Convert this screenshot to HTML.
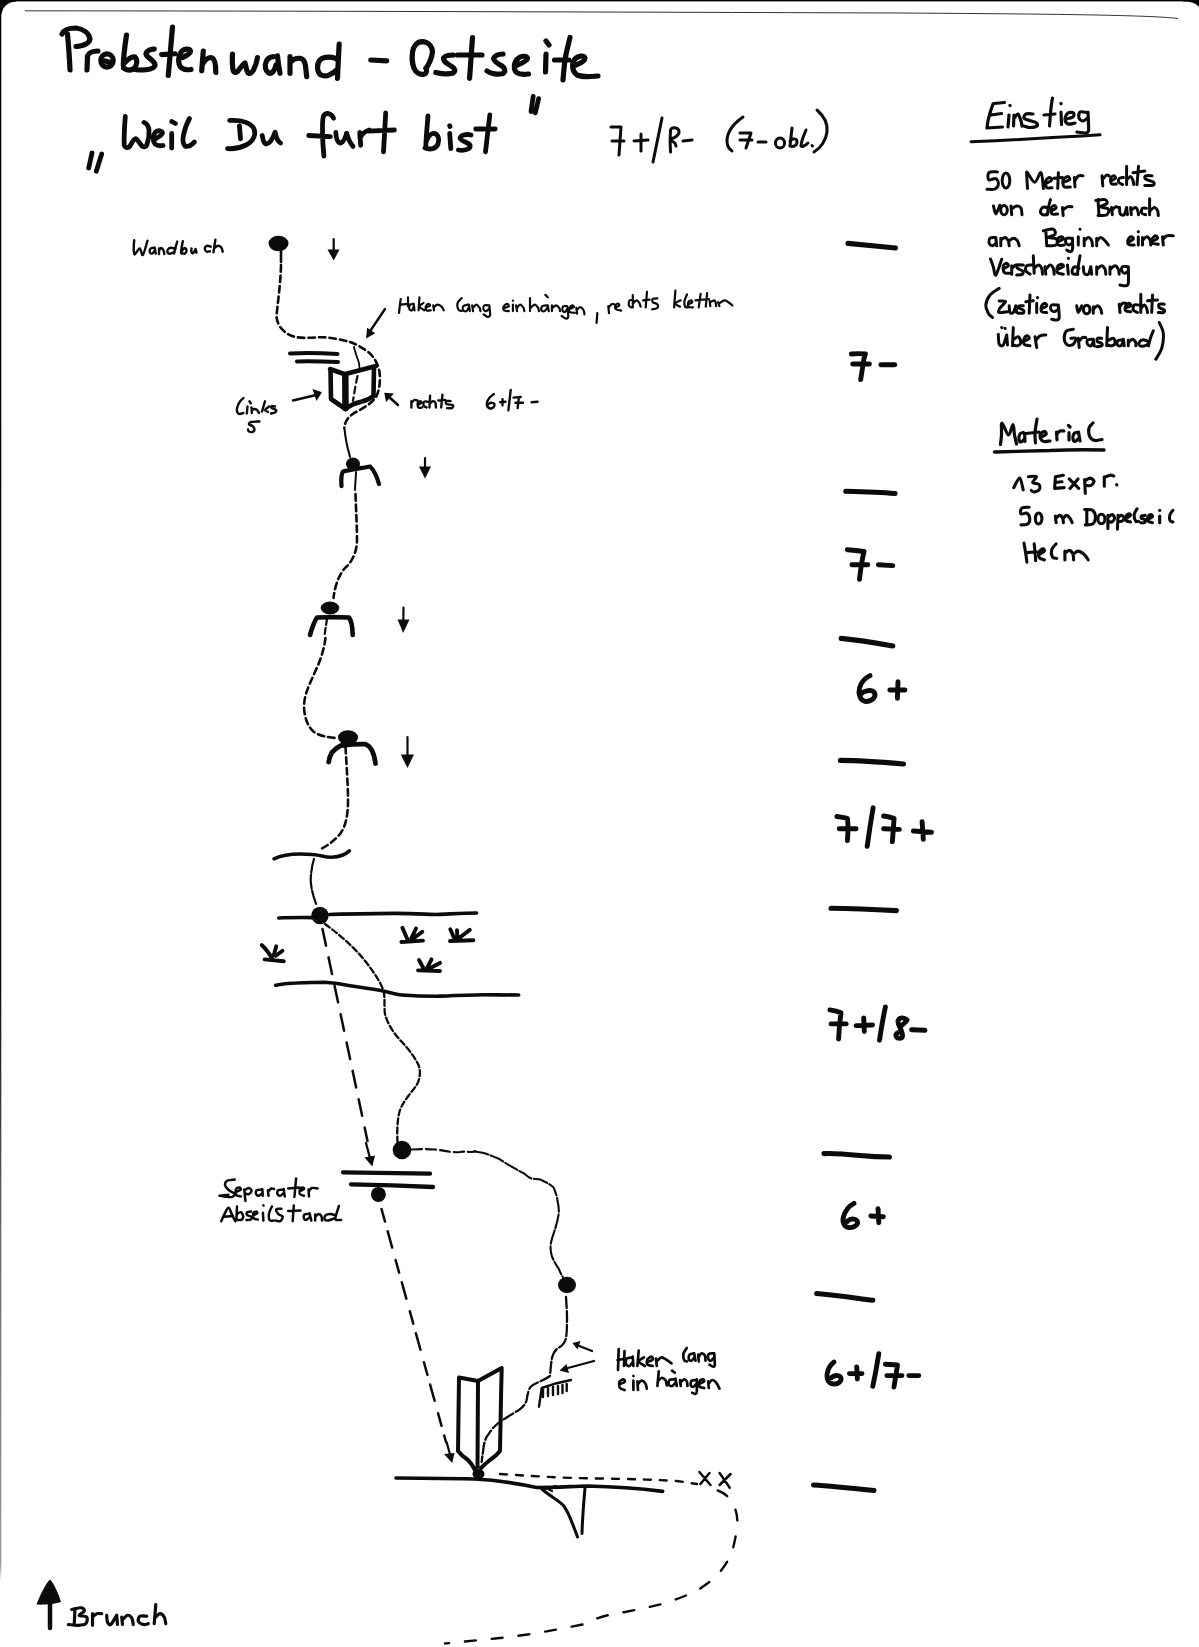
<!DOCTYPE html>
<html><head><meta charset="utf-8"><title>Probstenwand - Ostseite</title>
<style>
html,body{margin:0;padding:0;background:#fff;}
body{width:1199px;height:1647px;overflow:hidden;position:relative;font-family:"Liberation Sans",sans-serif;}
svg{position:absolute;left:0;top:0;display:block;}
.k{fill:none;stroke:#0b0b0b;stroke-linecap:round;stroke-linejoin:round;}
.f{fill:#0b0b0b;stroke:none;}
.t1{stroke-width:5.2;}
.t2{stroke-width:4.8;}
.t3{stroke-width:3.0;}
.g{stroke-width:4.9;}
.d{stroke-width:2.4;}
.tx{font-family:"Liberation Sans",sans-serif;fill:#0b0b0b;stroke:#0b0b0b;}
</style></head>
<body>
<svg width="1199" height="1647" viewBox="0 0 1199 1647">
<!-- scan border -->
<defs><linearGradient id="lb" x1="0" y1="0" x2="0" y2="1647" gradientUnits="userSpaceOnUse">
<stop offset="0" stop-color="#000"/><stop offset="0.6" stop-color="#111"/><stop offset="0.75" stop-color="#666"/><stop offset="0.95" stop-color="#999"/><stop offset="0.96" stop-color="#fff"/></linearGradient></defs>
<rect x="0" y="0" width="1199" height="1.4" fill="#000"/>
<path d="M0,0 L16,0 L16,1.4 C8,2 3,6 1.6,14 L0,14 Z" fill="#000"/>
<path d="M1183,0 L1199,0 L1199,7 C1196,3 1191,1.5 1183,1.4 Z" fill="#000"/>
<rect x="0" y="0" width="1.3" height="1580" fill="url(#lb)"/>
<path d="M25,10.8 C300,11 600,12 900,13 C1050,14 1150,15 1178,18.5" fill="none" stroke="#333" stroke-width="1"/>

<!-- TITLE -->
<g class="k t1" id="title">
<path d="M62,34 C64,29 70,28 76,28 C83,29 89,33 90,39 C89,44 82,46 76,46.5"/>
<path d="M67.5,34 C68.5,45 69.5,58 70,70"/>
<path d="M87.5,56 L87,70 M87.5,56 C89,52 93,51 98,51"/>
<ellipse cx="107" cy="60.5" rx="6.2" ry="6.7"/>
<path d="M105,61 L110.5,62.5"/>
<path d="M126.5,35 C125,45 123.5,55 123.3,65 M123.5,64 C127,60 132,56 135,57 C138,60 137,66 133.5,69 C130,70.5 126,70 123.5,68"/>
<path d="M154.2,49.2 C150,49 146,51 146,54 C147,58 154,60 155,64.5 C155,69 148,70 140,70 C137,70 135,69.5 134,69"/>
<path d="M172.5,27 L168.3,75.5 M161.7,54.6 L175,53.75"/>
<path d="M182.5,57.5 C186,56 190,54 190.5,51.5 C190,48.5 185,48.5 182,51 C178,55 177.5,64 181,67.5 C184,70 188,70 191,69.5"/>
<path d="M203.3,51 L201.7,70.8 M202.5,64.2 C205,60 208,57.5 211,57.5 C214,58 215,61 215.5,66 L215.8,72.5"/>
<path d="M232.5,54 C232,60 232.5,66 233,70 C234,73 236,73.3 238,71 C241,67 243,64 245,63 C246,66 246.5,71 248,73 C250,74 252,72.5 253.5,70 C255.5,66 257,61 257.5,57.5"/>
<path d="M273.3,56.7 C269,57 266,60 265.3,65 C265,70 267.5,73 270,73.3 C273,73 275,69 276,65 M277.5,55.8 C278,62 279,68 280,73.3"/>
<path d="M290,56.7 L290,73.3 M290.5,62 C293,59 296,58 300,58.3 C304,59 305,62 305.5,66 L306.7,76.7"/>
<path d="M338,60 C334,56.5 324,56 320,60 C316.5,64 316.5,72 321,75 C326,77.5 333,74 337.5,69 M339.2,44 C338.5,55 338,67 337.5,78.3"/>
<path d="M370.8,60 L386.7,60.8"/>
<path d="M425.8,68.3 C429,65 432,57 432.5,51.7 C432,46 428,42 422,41.7 C417,42 413.5,46 412.5,52 C411.5,60 413,68 416,71.5 C418.5,74 422,74.8 424.5,74 C427,73 427,70 425.8,68.3"/>
<path d="M453.3,55 C449,55 445,55.5 443.5,58 C443,62 448,64 451,66 C455,68 456,71 453,73 C449,74.5 441,74 435.8,72.5"/>
<path d="M472.5,37.5 C471.5,52 470.5,65 469.6,78.3 M457.5,55 L482,55"/>
<path d="M503,54 C499,54 495,55 493.5,58.5 C494,62 499,64 502,66 C505,68 506,71.5 503,73.5 C498,75 491,74 487,71"/>
<path d="M517.5,65 C521,63.5 527,61 527.5,58.5 C527,55.5 521,55.5 518,58.5 C514,62 513,69 516.5,72.5 C520,75 525,74.5 528.5,74"/>
<path d="M546,54 L545.5,72 M546,41 L549,45"/>
<path d="M570,37.5 C568,46 566,53 565,60 C564,68 563.5,74 563,80 M554.5,60 L569,60"/>
<path d="M576,65 C580,63.5 585,61 585,58 C584,55 578,55.5 575,59 C571.5,63 571.5,71 577,75 C584,78 592,76.5 598,76"/>
</g>

<!-- SUBTITLE -->
<g class="k t2" id="sub">
<path d="M92,153 L88.7,168 M101.7,154 L96.3,171.3"/>
<path d="M125.3,116.5 C124.5,126 124,136 124.2,145 C125,148 128,148.5 130,146 C132,142.5 134,139 135.6,138.7 C137.5,139 139.5,143.5 142,146 C144,147.5 146,147 147,144.5 C148.5,140 149.3,134 149,130 C148.5,126 146.5,123.5 144,122.4"/>
<path d="M155,139 C158,137.5 162,135 162.5,133 C162,130.5 158,130 155.5,132 C152.5,135 152.5,141 155,144 C157.5,146 160.5,146 163,145.5"/>
<path d="M171.7,133.4 L171.7,148 M171.7,121.5 L175.5,123.5"/>
<path d="M189.5,118.5 C187.5,122 185,128 183.5,135 C182.5,140 183,144 185,146 C188,147.5 191.5,145 194.4,142"/>
<path d="M239.4,125.8 L240.5,138.8 M229.7,120.4 C238,120 248,121 253,127 C257,133 254,141 246,145 C240,148 232,149 227.5,148.6"/>
<path d="M262.2,135.5 C263,139 263,143 266,144 C269,144 272,141 275,132.3 M275.2,132.3 C276,137 277,141 280.6,143"/>
<path d="M333.6,118.2 C331,113 326,112 323.5,116 C322,120 322.5,135 323,145 L323.9,156 M308.7,135.5 L330.4,136.6"/>
<path d="M335.8,132.3 C336,137 337,142 340,143 C343,143 345,139 346.6,133.4 M346.6,133.4 C348,138 350,143 353,146.4"/>
<path d="M359.7,132.3 L360.7,145.3 M360,138 C362,134 365,131 369.4,130"/>
<path d="M385.7,112.8 L383.5,151.8 M368.3,131.2 L394.4,130"/>
<path d="M428,116 C427,128 426,138 425.8,147.5 M426,142 C428,137 431,133 434,133.4 C438,134 440,139 438,144 C436,149 430,150 425,148"/>
<path d="M449.7,133.4 L450.8,148.6 M449.7,125.8 L450,126.5"/>
<path d="M471,135 C467,134 461,134.5 460,138 C460,141 468,142 470,145 C471,149 465,151 458.4,150"/>
<path d="M489.8,115 L485.5,151.8 M475.7,129 L495.2,129"/>
<path d="M533.2,96.5 L531,111.7 M538.6,98.7 L535.3,112.8"/>
</g>

<!-- grade header -->
<g class="k t3" id="grade">
<path d="M611,127 L621,127 L619,155 M612,141 L624,141"/>
<path d="M634,141 L648,140 M641,134 L641,151"/>
<path d="M662,118 L653,162"/>
<path d="M670.5,152 C670,145 670,137 670.5,130 C672,126.5 678,127 679,131 C679.5,135 675,138 670.5,139 M670.5,141 C673,141 676,143 676,146"/>
<path d="M683,141 L692,140"/>
<path d="M743,117 C733,124 727,133 727,141 C727,146 729,149 732,151"/>
<path d="M740,133 L751,133 L746,148 M740,140 L752,140"/>
<path d="M758,142 L766,142"/>
<ellipse cx="780" cy="143" rx="4.6" ry="5"/>
<path d="M792,128 L790,146 M790,141 C793,138 797,138 797,142 C797,146 793,147 790,146"/>
<path d="M806,130 C803,137 801,142 801,146 C802,147 805,146 808,143"/>
<path d="M812,145.5 L812.5,146"/>
<path d="M817,110 C825,117 828,124 827,132 C826,140 821,148 814,152"/>
</g>

<!-- GRADES COLUMN -->
<g class="k g" id="grades">
<path d="M848,243.4 C860,244.5 880,246.5 895.5,248" stroke-width="5.1"/>
<path d="M851.4,354 C856,353.5 861,353.5 865.4,354 C864.5,357 863.5,359 863.4,362 C862.5,368 861.5,374 860.7,379.5 M852.7,364 L869.4,364 M880.8,364.8 L894.8,364.8"/>
<path d="M845.8,491.2 C860,491.5 880,492 895,493.5" stroke-width="5.1"/>
<path d="M847.3,549.7 C853,550 858,550.5 864,551.5 C862,560 860.5,570 859.5,579.3 M851.9,564.8 L867.8,564.8 M878.4,564.8 L892.8,565.6"/>
<path d="M841.2,638.4 C858,640 876,643 892.8,646" stroke-width="5.1"/>
<path d="M870,675.6 C865,678 861,682 859.5,688 C858,694 860,700 865,701.4 C870,702 874.5,699 875,695 C875,691 871,690 867,690.8 C864,691.5 862,693 861.7,693.5 M889.8,690 L905,690 M898,681.7 L897.4,698.4"/>
<path d="M840.4,760.4 C860,760.5 880,762 903.5,764" stroke-width="5.1"/>
<path d="M836.9,816.5 C840,817 844,817.5 847.4,818.3 C848.5,825 848,833 847.4,840.5 M839.2,828.8 L856.1,828.8 M873.1,807.8 C871,820 869,833 867.2,846.3 M883.6,816 C887,816.5 891,817.5 894.1,818.3 C893.5,826 893,834 892.4,841.6 M883.6,828.8 L899.4,829.4 M913.4,831 L931.5,832.3 M922.1,821.8 L923.3,839.3"/>
<path d="M831,908.2 C850,908.5 875,909.5 896.4,910.6" stroke-width="5.1"/>
<path d="M829.9,1009.9 C834,1010.5 838,1011.5 841,1012.8 C840,1020 839,1030 838.6,1039 M831,1023.9 L846.2,1023.9 M856.1,1025.6 L872.5,1025 M863.7,1018 L864.3,1031.5 M885.4,1007 C883,1018 881,1030 879.5,1040.2 M907,1020 C904,1017 899,1017 898,1021 C897.5,1025 901,1028 901,1030 C900,1033 895,1032 896,1036 C897,1039 902,1039 902.5,1036 C903,1033 900,1029 900.5,1027 C902,1024 906,1023 907,1020 M911.6,1029.7 L925,1030.3"/>
<path d="M824,1153.6 C835,1153 845,1154 860,1155.5 C870,1156.5 880,1157 889.4,1157" stroke-width="5.1"/>
<path d="M854,1203.4 C849,1206 845,1211 843.5,1217 C842,1222 844,1227 849,1227.6 C854,1228 858,1225 857.5,1222 C857,1219 853,1218.5 850,1219.5 C848,1220.5 847.5,1221 847.4,1221.4 M870.8,1216 L883.4,1216.7 M878,1208.7 L878.8,1222.7"/>
<path d="M816.7,1293.5 C835,1295 855,1298 872.8,1300.2" stroke-width="5.1"/>
<path d="M834,1362 C830,1365 827.5,1370 827,1375 C826.5,1380 829,1384 834,1384 C839,1384 841.5,1381 841,1378 C840,1375 836,1375 833,1376.5 C831.5,1377.5 831.5,1377.6 831.4,1377.6 M849.4,1373.6 L862,1373.6 M856.7,1367 L857.4,1379 M878.8,1353.6 C877,1365 875,1376 872.8,1386.3 M885.4,1364.3 C889,1364.5 893,1364.8 897.5,1365 C896.5,1372 895,1380 894,1387 M886.8,1375.6 L902,1375.6 M908.8,1375.6 L918.8,1375.6"/>
<path d="M813.5,1485 C830,1486 850,1488 874,1490.5" stroke-width="5"/>
</g>

<!-- DIAGRAM -->
<g id="diagram">
<!-- Wandbuch -->
<ellipse class="f" cx="278.5" cy="243.5" rx="10" ry="7.8"/>
<path class="k" stroke-width="2.2" d="M333.7,239 L333.7,252"/>
<path class="f" d="M327.5,249.5 L339.5,249.5 L333.7,260.5 Z"/>
<!-- rope 1 -->
<path class="k" stroke-width="2.6" d="M281,250 L281,262"/>
<path class="k" stroke-width="2.6" stroke-dasharray="6.5 4" d="M281,265 C280.5,285 278,300 276.5,316 C277,326 284,333 292,336 C300,339 312,337.5 322,337.2 C332,337.5 342,340 350,342 C356,344 362,348 367,351 C374,356 378,364 379.5,372 C380.5,382 379.5,390 376,397 C371,404 362,409 354,413 C347,418 344.5,423 344.3,428"/>
<path class="k" stroke-width="1.8" d="M354,347 C355,352 357,357 359,363 L359.5,368"/>
<path class="k" stroke-width="2.2" stroke-dasharray="7 4" d="M357.5,376 C356,383 354.5,391 353,401"/>
<!-- roof -->
<path class="k" stroke-width="4" d="M290,353.5 C300,353 320,353 337.5,354 M297,361.5 C310,361 325,361.5 338,362"/>
<!-- book 1 -->
<path class="k" stroke-width="4.6" d="M330,369 L345.5,374.5 M330.5,369 L331,399 L345.5,409 M345.5,374 L376,366 M374,367 L373.5,396 M345.5,409 C350,405 356,403 362,401.5 C367,400 371,398 373.5,396"/>
<path class="k" stroke-width="6.5" d="M345.3,375 L345.5,408"/>
<!-- arrows near book -->
<path class="k" stroke-width="2.4" d="M293,400.5 L316,395"/>
<path class="f" d="M322,392.3 L312.5,389 L316.5,401 Z"/>
<path class="k" stroke-width="2.6" d="M398,405 L389,397"/>
<path class="f" d="M384.3,392.8 L394,393.5 L386,402 Z"/>
<path class="k" stroke-width="2.4" d="M385,309 L369.5,332"/>
<path class="f" d="M366,338.5 L375.2,333.2 L367.2,327.8 Z"/>

<!-- stand 1 -->
<path class="k" stroke-width="2.1" d="M344.5,429 C345.5,438 347,446 348.5,451 L350,457"/>
<ellipse class="f" cx="353" cy="464" rx="7" ry="6.4"/>
<path class="k" stroke-width="4.3" d="M341.5,486 C341,480 341.5,474 343,471.5 C350,470 362,468 370,466.5 C374,470 377,477 379,484"/>
<path class="k" stroke-width="2" d="M356,472 C356,478 355,484 355,490"/>
<path class="k" stroke-width="2.2" d="M425,458 L425,470"/>
<path class="f" d="M419,466.5 L431,466.5 L425,478.5 Z"/>
<!-- rope 2 -->
<path class="k" stroke-width="2.6" stroke-dasharray="6.5 4" d="M355.5,494 C356,510 357,525 357,540 C357,552 352,562 345,568 C339,575 335,585 333.5,598"/>
<!-- stand 2 -->
<ellipse class="f" cx="330" cy="608" rx="9.3" ry="6.5"/>
<path class="k" stroke-width="4.6" d="M310,635 C312,628 314,622 317,617.5 C327,617 340,617 349,617.5 C351,620 352.5,627 352.7,635"/>
<path class="k" stroke-width="2.2" stroke-dasharray="6 3" d="M327,619 L324.7,634"/>
<path class="k" stroke-width="2.2" d="M403.5,607.5 L403.3,622"/>
<path class="f" d="M397.5,619.5 L409.5,619.5 L403.2,633 Z"/>
<!-- rope 3 -->
<path class="k" stroke-width="2.6" stroke-dasharray="6.5 4" d="M325.5,638 C324,650 320,662 314,674 C310,684 305,692 304,705 C304,716 307,726 314,732 C320,736 328,737.5 337,738"/>
<!-- stand 3 -->
<ellipse class="f" cx="348" cy="737.5" rx="10" ry="7.3"/>
<path class="k" stroke-width="4.8" d="M328.7,762 C329.5,755 333,749 341,745.5 C350,744.5 358,744 365.4,744.2 C371,746 374,752 375.5,763.5"/>
<path class="k" stroke-width="2.2" d="M407.5,737 L407.5,757"/>
<path class="f" d="M400.8,754.5 L414,754.5 L407.5,768 Z"/>
<!-- rope 4 -->
<path class="k" stroke-width="2.6" stroke-dasharray="6.5 4" d="M345.5,747 C346.5,765 348,785 348,800 C348,815 346,826 340,834 C334,841 327,846 320,849.5"/>
<!-- ledge 1 -->
<path class="k" stroke-width="3.6" d="M274,858.8 C280,856 288,854 300,854 C310,854 318,855 322,856 C330,858 336,858 342.8,855 C346,853.5 348,852 349.4,850.8"/>
<path class="k" stroke-width="2.2" stroke-dasharray="14 2" d="M314,859 C312,865 311,872 310.7,880 C311,888 313,896 316.7,905.5"/>
<!-- ledge 2 + dot 5 -->
<circle class="f" cx="320" cy="915.5" r="8.7"/>
<path class="k" stroke-width="3.6" d="M278.7,918 C290,917.5 300,917.5 312,917.6 M329.4,914.5 C350,914 375,913.4 395,913.4 C415,913.5 430,914.5 437,914.5 C450,914 465,913 476.6,913"/>
<!-- grass tufts -->
<g class="k" stroke-width="3.9">
<path d="M264.6,959.4 L283.8,961.3 M272.5,959 C269,953 265,948 261.7,945 M273.8,955 L276.3,946.3 M275.8,955.8 L282.5,950.8"/>
<path d="M401.4,942 L423,940.6 M407.8,940.2 L402.4,927.8 M411.3,938.4 L416,928.5 M413.4,938.4 L422.3,931.7"/>
<path d="M450,941 L473.4,940.2 M454.6,939 L450.3,929.2 M457.4,938.4 L457,930.3 M459.5,937.7 L469.8,929.9"/>
<path d="M418,970.4 L440,971 M423.4,968.2 L419,960 M427,968.2 L431.5,959.4 M429.8,968.2 L440,962.9"/>
</g>
<!-- ledge 3 -->
<path class="k" stroke-width="3.6" d="M275.7,985.3 C283,984 290,983 296.7,983 C308,982.5 318,982.3 324.8,982.3 C335,983 343,984.5 350.5,985.8 C362,987.5 372,989 380.8,990.5 C390,992.5 396,994.5 401.9,995 C415,996 427,996.3 437,996.3 C455,995.5 470,994.8 483.6,994.7 C495,994.8 508,995 518.7,995"/>
<!-- abseil 1 -->
<path class="k" stroke-width="2.5" stroke-dasharray="17 12" d="M322.5,929 L367.5,1141"/>
<path class="k" stroke-width="2.3" d="M366,1143 L370.5,1160"/>
<path class="f" d="M364.5,1157.5 L375,1155.5 L372.3,1166.5 Z"/>
<!-- route from dot 5 -->
<path class="k" stroke-width="2.3" stroke-dasharray="6 3" d="M325,924 C340,935 355,948 366,962 C375,974 382,984 384,993 C385,1002 384,1008 385,1014 C387,1022 392,1031 400,1040 C407,1047 414,1056 418.5,1065 C421,1072 420,1080 416,1086 C411,1093 404,1100 400,1110 C397,1120 397,1132 397.5,1142"/>
<!-- dot 6 -->
<circle class="f" cx="402" cy="1150" r="9.3"/>
<path class="k" stroke-width="2.2" stroke-dasharray="10 4" d="M412,1149.5 C420,1149 426,1148.9 435,1149.5 C445,1150.5 452,1153 460,1152 C466,1151 470,1153 474.7,1151.4"/>
<path class="k" stroke-width="2.1" stroke-dasharray="14 2.5" d="M474.7,1151.4 C478,1152 482,1152.5 485.4,1153.4 C490,1155 494,1157 498.7,1158.7 C502,1161 506,1163 509.4,1165.4 C514,1168 519,1171 524,1173.4 C527,1176 529,1178 532,1178.7 C535,1179 537,1179 540,1179.4 C545,1182 550,1184 553.5,1187.4 C556,1193 557,1197 557.5,1200.8 C558.5,1205 559,1209 558.8,1212.8 C558,1220 556,1226 554.8,1230 C553,1236 551,1240 550.8,1244.8 C550,1249 551,1253 552,1256.8 C554,1261 556,1265 558.8,1268.8 C560,1272 561,1274 562.8,1277"/>
<ellipse class="f" cx="567" cy="1285" rx="9" ry="8.2"/>
<!-- abseil stand -->
<path class="k" stroke-width="4.3" d="M343,1172.4 C370,1172.5 400,1173 430,1173.6 M351,1184.4 C380,1185 410,1186 433,1187"/>
<circle class="f" cx="378.4" cy="1194.4" r="7.5"/>
<!-- abseil 2 -->
<path class="k" stroke-width="2.5" stroke-dasharray="13 10 17 13" d="M381.5,1209 L446,1442"/>
<path class="k" stroke-width="2.3" d="M446.7,1442.5 L450.5,1456"/>
<path class="f" d="M444,1454 L454.5,1453 L452.2,1463 Z"/>
<!-- route below dot 8 -->
<path class="k" stroke-width="2.3" stroke-dasharray="11 3" d="M566,1297 C566.5,1305 567,1312 567,1318 C567,1325 567,1332 566,1338 C565,1343 562,1346 558,1348 C555,1350 553,1354 552,1358 C551,1363 550.5,1370 550,1376 C546,1379 541,1381 536.7,1383 C533,1384.5 530,1386 529,1390 C527.5,1394 527,1397 526.7,1400 C525.5,1404 523,1407 519,1410 C515,1412.5 510,1415 505,1418.5 C499,1422 496,1425 493,1428 C490,1432 488,1435 486.7,1436.7 C484.5,1441 483.5,1446 483.3,1450 C482.5,1455 482,1458 481.7,1462"/>
<!-- pitons lower -->
<path class="k" stroke-width="2.4" d="M541.7,1388 C550,1385 560,1382 571,1380 M541.7,1388 L539,1406.7 M543,1389 L543,1397 M548,1388 L548,1396 M553,1387 L553,1395 M558,1386 L558,1394 M562.5,1385 L562.5,1393 M566.7,1384 L566.7,1391"/>
<!-- arrows lower right -->
<path class="k" stroke-width="2.3" d="M592,1351 L578,1345.5"/>
<path class="f" d="M572.5,1343 L580.5,1341 L577.5,1349.5 Z"/>
<path class="k" stroke-width="2.3" d="M594,1361 L566,1368.5"/>
<path class="f" d="M559.5,1370.5 L566.5,1364 L569,1373 Z"/>
<!-- book 2 -->
<path class="k" stroke-width="4" d="M459,1377.5 L478,1381 M459,1377.5 C458.5,1400 458.2,1425 458,1451 C461,1455 465,1458 468,1460 C471,1463 473,1466 475,1470 M478,1381 L501.7,1368 M501.7,1368 C501,1395 500.5,1420 500,1451 C497,1455 493,1458 490,1460 C486,1463 483,1466 481,1468 M478,1381 L477.5,1467"/>
<ellipse class="f" cx="478.5" cy="1474" rx="6" ry="5"/>
<!-- ground -->
<path class="k" stroke-width="3.6" d="M396,1478 C420,1478 450,1478.5 475,1479 C495,1480 515,1483 536.7,1487.5 C555,1487.5 570,1486.5 587.5,1486 C610,1486.5 633,1487.7 662.7,1491.4"/>
<path class="k" stroke-width="3" d="M541.7,1489 C550,1496 558,1500 563,1505 C567,1510 570,1517 573,1525 C575,1530 576.5,1534 577.5,1537 M585,1488 C584,1500 582.5,1515 582,1533.6"/>
<path class="k" stroke-width="2.2" d="M545,1489 L556,1486 M547,1488.5 L552,1491"/>
<!-- dashed right on ground -->
<path class="k" stroke-width="2.4" stroke-dasharray="7 9" d="M500,1474 C530,1476 560,1478 600,1478.5 C630,1479 650,1479.5 677,1481 L697,1484"/>
<!-- xx -->
<path class="k" stroke-width="2.5" d="M699.4,1472 L710.5,1485 M709.5,1473 L700.4,1484 M719.6,1473 L729.7,1487.7 M730.6,1474 L719.6,1485"/>
<!-- return to Brunch -->
<path class="k" stroke-width="2.4" stroke-dasharray="11 16" d="M717.8,1490.5 C725,1493 730,1498 733.5,1505 C737,1512 738,1520 737,1527 C736,1535 734.5,1543 732.5,1550 C730,1558 726,1564 720,1572 C713,1580 704,1586 695.8,1591.4 C685,1596 675,1600 665,1603.3 C650,1607 640,1609 625,1612 C610,1614.5 598,1616.5 585,1624 C570,1627 555,1630 540,1632.5 C525,1635 510,1637 495,1638.5 C480,1640 465,1641.5 445,1643.5"/>
</g>

<!-- Brunch arrow -->
<path class="k" stroke-width="4.5" d="M50,1600 L50,1628"/>
<path class="f" d="M50,1579.5 C53,1582 58,1592 61,1602 C56,1604 44,1605 36.5,1604.5 C40,1595 46,1583 50,1579.5 Z"/>

<!--GEN-->
<g class="k" stroke-width="3.2"><path d="M994,103.5 L1004.5,102.5 M993,104 C992.5,105.5 990.8,110.2 990,113 C989.2,115.8 988.5,118.5 988,121 C987.5,123.5 987.2,126.8 987,128 M987,128 L1002.5,127 M991,115 L1001.5,113.5 M1009,115 L1008,127 M1010,105.5 l0.1,0.1 M1014,115 L1013.5,126 M1014.5,118 C1015.1,117.3 1016.9,113.5 1018,114 C1019.1,114.5 1020.3,119 1021,121 C1021.7,123 1021.8,125.2 1022,126 M1033,114 C1031.8,114 1027.5,113.3 1026,114 C1024.5,114.7 1023.7,117 1024,118 C1024.3,119 1026,119.2 1028,120 C1030,120.8 1034.5,121.5 1036,122.5 C1037.5,123.5 1038,125.2 1037,126 C1036,126.8 1032.2,127.5 1030,127.5 C1027.8,127.5 1025,126.2 1024,126 M1052.5,98 C1052.2,99.7 1051.5,103.3 1051,108 C1050.5,112.7 1049.8,123 1049.5,126 M1044,115 L1055,114 M1061,112 L1061.5,124.5 M1061,103.5 l0.1,0.1 M1066,119 C1067.2,118.7 1071.8,118 1073,117 C1074.2,116 1074.3,113.7 1073.5,113 C1072.7,112.3 1069.4,112 1068,113 C1066.6,114 1065,117.2 1065,119 C1065,120.8 1066.3,123.3 1068,124 C1069.7,124.7 1073.8,123.2 1075,123 M1087,112.5 C1085.8,112.4 1081.3,111.1 1080,112 C1078.7,112.9 1078.5,116.5 1079,118 C1079.5,119.5 1081.6,121 1083,121 C1084.4,121 1086.8,118.5 1087.5,118 M1088,112 C1088.1,114.2 1088.4,121.8 1088.5,125 C1088.6,128.2 1088.9,129.7 1088.5,131 C1088.1,132.3 1087.9,132.8 1086,133 C1084.1,133.2 1078.5,132.2 1077,132"/></g>
<g class="k" stroke-width="3.0"><path d="M997.4,171.9 C996,172 990.5,171.2 989,172.5 C987.5,173.8 987.6,178.8 988.7,179.8 C989.8,180.8 994.2,177.9 995.8,178.6 C997.4,179.3 998.5,182.1 998.4,183.8 C998.3,185.5 996.9,188.1 995,189 C993.1,189.9 988.3,189.2 987,189.3 M1027.5,188.5 C1027.4,186.1 1026.7,176.9 1026.7,174.3 C1026.7,171.7 1026.2,171.4 1027.5,172.7 C1028.8,174 1032.5,182.2 1034.7,182.2 C1037,182.2 1039.5,171.6 1041,172.7 C1042.5,173.8 1043,185.9 1043.4,188.5 M1046.6,183 C1047.4,182.6 1050.8,181.5 1051.3,180.6 C1051.8,179.7 1050.6,177.4 1049.7,177.4 C1048.8,177.4 1046.3,178.9 1045.8,180.6 C1045.3,182.3 1045.6,186.3 1046.6,187.5 C1047.6,188.7 1051.1,187.7 1052,187.7 M1058.4,172.7 L1057.7,188.5 M1053.7,178.2 L1062.4,177.4 M1063.2,182.2 C1064.2,181.8 1068.7,180.7 1069.5,179.8 C1070.3,178.9 1069,176.6 1068,176.6 C1067,176.6 1063.9,178.1 1063.2,179.8 C1062.5,181.5 1062.8,185.5 1064,186.7 C1065.2,187.9 1069.2,186.9 1070.3,187 M1074.3,177.4 L1075,187 M1075,180.6 C1075.5,179.8 1077,176.8 1078.3,176 C1079.6,175.2 1082.2,175.8 1083,175.8 M1102,175.8 L1102.8,186 M1102.8,179 C1103.5,178.3 1105.8,175.5 1106.8,175 C1107.8,174.5 1108.6,175.7 1109,175.8 M1111.5,180.6 C1112.2,180.2 1115.1,179 1115.5,178.2 C1115.9,177.4 1114.8,175.8 1114,175.8 C1113.2,175.8 1111.1,176.9 1110.7,178.2 C1110.3,179.5 1110.6,182.8 1111.5,183.8 C1112.4,184.8 1115.5,184 1116.3,184 M1123.4,177.4 C1122.8,177.5 1120.3,177.4 1119.5,178.2 C1118.7,179 1118.2,181.1 1118.7,182.2 C1119.2,183.3 1121.9,184.2 1122.6,184.6 M1126.6,166.3 L1126.6,184.6 M1127,179.5 C1127.6,179 1129.6,176.4 1130.6,176.6 C1131.6,176.8 1132.5,179.3 1133,180.6 C1133.5,181.9 1133.6,183.9 1133.7,184.6 M1138.5,166.3 L1137,184.6 M1133,172.7 L1144.8,171 M1152,175.8 C1150.9,175.8 1146.7,175.3 1145.6,175.8 C1144.5,176.3 1144.3,177.9 1145.6,179 C1146.9,180.1 1152.3,181.1 1153.5,182.2 C1154.7,183.3 1154.2,184.9 1152.7,185.4 C1151.2,185.9 1146.1,185.4 1144.8,185.4"/><ellipse cx="1006" cy="180.6" rx="3.8" ry="7.5"/></g>
<g class="k" stroke-width="3.0"><path d="M993.5,206 C993.9,207.3 994.8,214 995.8,213.9 C996.8,213.8 999.1,206.6 999.8,205.2 M1011,206 L1011.7,214.7 M1011.6,209 C1012.4,208.5 1014.9,206.2 1016.5,206 C1018.1,205.8 1020.1,206.6 1021,208 C1021.9,209.4 1021.8,213.6 1022,214.7 M1048.6,208.5 C1047.8,208.2 1045.3,206.8 1044,207 C1042.7,207.2 1041.5,208.4 1041,209.5 C1040.5,210.6 1040.5,212.9 1041.3,213.8 C1042.1,214.7 1044.7,215 1045.8,214.8 C1046.9,214.6 1047.6,212.9 1048,212.5 M1050.5,199.6 C1050.2,200.8 1049,204.5 1048.5,207 C1048,209.5 1047.6,213.4 1047.4,214.7 M1052,210.7 C1052.7,210.2 1055.6,208.8 1056,208 C1056.4,207.2 1055.3,205.6 1054.5,205.6 C1053.7,205.6 1051.7,206.6 1051.3,208 C1050.9,209.4 1050.9,212.9 1052,213.9 C1053.1,214.9 1056.8,213.9 1057.7,213.9 M1062.4,207.5 L1063.2,215.5 M1063,210 C1063.7,209.5 1065.7,207.3 1067.2,206.8 C1068.7,206.3 1071.2,206.8 1072,206.8 M1098,199.6 L1099,215.5 M1095.7,200.4 C1097.2,200.3 1103.2,199.1 1105,199.6 C1106.8,200.1 1107.6,202.4 1106.8,203.6 C1106,204.8 1100.1,205.9 1100.4,206.8 C1100.7,207.7 1107.3,207.7 1108.4,209 C1109.5,210.3 1108.5,213.6 1106.8,214.7 C1105.1,215.8 1099.5,215.4 1098,215.5 M1111.5,207.5 L1112.3,214.7 M1112.3,210 C1112.8,209.5 1114.4,207.2 1115.5,206.8 C1116.6,206.4 1118.2,207.4 1118.7,207.5 M1119.5,207.5 C1119.6,208.6 1119.5,212.7 1120.3,213.9 C1121.1,215.1 1123.2,215.8 1124.2,214.7 C1125.2,213.6 1126.2,208.7 1126.6,207.5 M1126.6,207.5 L1127.4,214.7 M1130.6,207.5 L1131.3,214.7 M1131.3,210 C1132,209.6 1134.2,207.4 1135.3,207.5 C1136.4,207.6 1137.2,209.3 1137.7,210.5 C1138.2,211.7 1138.4,214 1138.5,214.7 M1146.4,208.3 C1145.7,208.3 1143.2,207.5 1142.4,208.3 C1141.6,209.1 1141.1,211.9 1141.6,213 C1142.1,214.1 1144.9,214.4 1145.6,214.7 M1149.6,198.8 L1149.6,214.7 M1149.8,211 C1150.5,210.4 1153,207.6 1154.3,207.5 C1155.6,207.4 1156.8,209.2 1157.5,210.5 C1158.2,211.8 1158.2,214.7 1158.3,215.5"/><ellipse cx="1004" cy="210.2" rx="3.3" ry="4.6"/></g>
<g class="k" stroke-width="3.0"><path d="M994.2,237.5 C993.5,237.6 990.8,237.3 990,238.3 C989.2,239.3 988.8,242.1 989.2,243.3 C989.6,244.6 991.4,245.8 992.5,245.8 C993.6,245.8 995.2,243.7 995.8,243.3 M995.8,237.5 L996.7,245.8 M1000.8,238.3 L1000.8,245.8 M1001,240 C1001.7,239.6 1003.8,237.4 1005,237.5 C1006.2,237.6 1007.6,239.4 1008.3,240.8 C1009,242.2 1009.1,245 1009.2,245.8 M1009.2,240.8 C1009.9,240.4 1011.9,238.3 1013.3,238.3 C1014.7,238.3 1016.5,239.6 1017.5,240.8 C1018.5,242.1 1018.9,245 1019.2,245.8 M1045.8,230 L1046.7,245 M1043.3,230.8 C1045,230.5 1051.3,228.6 1053.3,229.2 C1055.2,229.8 1055.8,232.8 1055,234.2 C1054.2,235.6 1048,236.7 1048.3,237.5 C1048.6,238.3 1055.5,237.9 1056.7,239.2 C1058,240.4 1057.5,243.9 1055.8,245 C1054.1,246.1 1048.2,245.7 1046.7,245.8 M1058.3,241.7 C1059.1,241.3 1062.7,240 1063.3,239.2 C1063.9,238.4 1062.7,236.7 1061.7,236.7 C1060.7,236.7 1058.1,237.8 1057.5,239.2 C1056.9,240.6 1057.2,244 1058.3,245 C1059.4,246 1063.2,245 1064.2,245 M1071.7,238.3 C1070.9,238.3 1067.7,237.6 1066.7,238.3 C1065.7,239 1065.4,241.4 1065.8,242.5 C1066.2,243.6 1068.1,245 1069.2,245 C1070.3,245 1072,242.9 1072.5,242.5 M1072.5,238.3 C1072.5,240.1 1072.9,247 1072.5,249.2 C1072.1,251.4 1071,251.6 1070,251.7 C1069,251.8 1067.2,250.3 1066.7,250 M1078.3,236.7 L1078.3,245 M1080,229.2 l0.1,0.1 M1084.2,238.3 L1084.2,245.8 M1084.4,240.8 C1085.1,240.2 1087.1,237.5 1088.3,237.5 C1089.5,237.5 1091,239.4 1091.7,240.8 C1092.4,242.2 1092.4,245 1092.5,245.8 M1096.7,238.3 L1096.7,245.8 M1097,240.8 C1097.6,240.2 1099.5,237.5 1100.8,237.5 C1102.1,237.5 1103.8,239.6 1105,240.8 C1106.2,242.1 1107.8,244.3 1108.3,245 M1129.2,241.7 C1129.9,241.3 1132.9,240 1133.3,239.2 C1133.7,238.4 1132.5,236.7 1131.7,236.7 C1130.9,236.7 1128.9,237.9 1128.3,239.2 C1127.7,240.4 1127.3,243.2 1128.3,244.2 C1129.3,245.2 1133.2,244.9 1134.2,245 M1138.3,236.7 L1138.3,245 M1138.3,231.7 l0.1,0.1 M1142.5,237.5 L1142.5,245 M1142.8,240 C1143.5,239.4 1145.5,236.7 1146.7,236.7 C1147.9,236.7 1149.3,238.6 1150,240 C1150.7,241.4 1150.7,244.2 1150.8,245 M1153.3,240.8 C1154,240.4 1157.1,239.1 1157.5,238.3 C1157.9,237.5 1156.6,235.8 1155.8,235.8 C1155,235.8 1153,237.1 1152.5,238.3 C1152,239.6 1151.5,242.3 1152.5,243.3 C1153.5,244.3 1157.3,244 1158.3,244.2 M1162.5,236.7 L1163.3,245 M1163.3,239.2 C1163.9,238.6 1165,236.4 1166.7,235.8 C1168.4,235.2 1172.2,235.8 1173.3,235.8"/></g>
<g class="k" stroke-width="3.0"><path d="M990.5,259 C991,260.3 992.4,264 993.3,266.7 C994.2,269.4 994.4,276.2 995.8,275 C997.2,273.8 1000.7,261.8 1001.7,259.2 M1004.2,268.3 C1004.9,267.9 1007.9,266.6 1008.3,265.8 C1008.7,265 1007.5,263.3 1006.7,263.3 C1005.9,263.3 1003.7,264.3 1003.3,265.8 C1002.9,267.3 1003.2,271.2 1004.2,272.5 C1005.2,273.8 1008.4,273.2 1009.2,273.3 M1011.7,265.8 L1011.7,274.2 M1011.9,268.3 C1012.5,267.8 1014.4,265.6 1015.8,265 C1017.1,264.4 1019.3,265 1020,265 M1023.3,265 C1022.3,265 1018.5,264.4 1017.5,265 C1016.5,265.6 1016.7,267.3 1017.5,268.3 C1018.3,269.3 1021.7,269.8 1022.5,270.8 C1023.3,271.8 1023.5,273.5 1022.5,274.2 C1021.5,274.9 1017.7,274.9 1016.7,275 M1031.7,265 C1030.9,265.1 1027.7,264.8 1026.7,265.8 C1025.7,266.8 1025.2,269.4 1025.8,270.8 C1026.3,272.2 1029.3,273.6 1030,274.2 M1033.3,255.8 L1034.2,273.3 M1034.2,268.3 C1034.9,267.8 1037,265 1038.3,265 C1039.5,265 1041,266.8 1041.7,268.3 C1042.4,269.8 1042.4,273.2 1042.5,274.2 M1045,266.7 L1045.8,274.2 M1045.8,269.2 C1046.5,268.5 1048.8,265.1 1050,265 C1051.2,264.9 1052.6,266.8 1053.3,268.3 C1054,269.8 1054,273.2 1054.2,274.2 M1058.3,269.2 C1059.1,268.8 1062.7,267.5 1063.3,266.7 C1063.9,265.9 1062.7,264.2 1061.7,264.2 C1060.7,264.2 1058.2,265.3 1057.5,266.7 C1056.8,268.1 1056.5,271.2 1057.5,272.5 C1058.5,273.8 1062.3,273.9 1063.3,274.2 M1067.5,265 L1068.3,274.2 M1068.3,258.3 l0.1,0.1 M1079,268.5 C1078.2,268.2 1075.6,266.6 1074.5,266.8 C1073.4,267.1 1072.5,268.8 1072.2,270 C1072,271.2 1072.1,273.1 1073,273.8 C1073.9,274.5 1077,274.3 1077.8,274.4 M1080,255.8 C1079.8,257.3 1078.9,261.9 1078.5,265 C1078.1,268.1 1077.7,272.7 1077.5,274.2 M1083.3,266.7 C1083.5,267.8 1083.4,272.1 1084.2,273.3 C1085,274.6 1087.2,275.3 1088.3,274.2 C1089.4,273.1 1090.4,267.9 1090.8,266.7 M1090.8,266.7 L1091.7,274.2 M1096.7,266.7 L1096.7,274.2 M1097,269.2 C1097.8,268.6 1100.4,265.8 1101.7,265.8 C1103,265.8 1104.3,267.8 1105,269.2 C1105.7,270.6 1105.7,273.4 1105.8,274.2 M1110,266.7 L1110,274.2 M1110.3,269.2 C1111.1,268.6 1113.7,265.8 1115,265.8 C1116.3,265.8 1117.6,267.8 1118.3,269.2 C1119,270.6 1119,273.4 1119.2,274.2 M1127.5,266.7 C1126.7,266.7 1123.5,266 1122.5,266.7 C1121.5,267.4 1121.3,269.7 1121.7,270.8 C1122.1,271.9 1123.9,273.3 1125,273.3 C1126.1,273.3 1127.8,271.2 1128.3,270.8 M1128.3,266.7 C1128.3,269.5 1128.8,280.1 1128.3,283.3 C1127.8,286.5 1126.4,285.5 1125,285.8 C1123.6,286.1 1120.8,285.1 1120,285"/></g>
<g class="k" stroke-width="3.0"><path d="M999.2,288.3 C997.7,289.4 992.2,292.2 990,295 C987.8,297.8 986.1,301.9 985.8,305 C985.5,308.1 987.2,311.2 988.3,313.3 C989.4,315.4 991.8,316.8 992.5,317.5 M999.2,301 C1000.2,301.1 1005.4,300.3 1005.5,301.5 C1005.6,302.7 1001.1,306.2 1000,308 C998.9,309.8 997.8,311.9 999,312.5 C1000.2,313.1 1006.1,311.8 1007.5,311.7 M1009.2,305.8 C1009.3,306.9 1009.3,311.4 1010,312.5 C1010.7,313.6 1012.3,313.6 1013.3,312.5 C1014.3,311.4 1015.4,306.9 1015.8,305.8 M1015.8,305.8 L1016.7,312.5 M1023.3,305.8 C1022.6,305.8 1019.9,305.4 1019.2,305.8 C1018.5,306.2 1018.5,307.6 1019.2,308.3 C1019.9,309 1022.6,309.2 1023.3,310 C1024,310.8 1024.1,312.4 1023.3,313 C1022.5,313.6 1019.1,313.2 1018.3,313.3 M1030,295 L1029.2,313.3 M1025.8,301.7 L1033.3,300.8 M1036.7,303.3 L1036.7,312.5 M1037.5,297.5 l0.1,0.1 M1042.5,308.3 C1043.2,307.9 1046.3,306.6 1046.7,305.8 C1047.1,305 1045.8,303.3 1045,303.3 C1044.2,303.3 1042.2,304.4 1041.7,305.8 C1041.2,307.2 1040.9,310.6 1041.7,311.7 C1042.5,312.8 1045.9,312.4 1046.7,312.5 M1057.5,305 C1056.5,305 1052.8,304.3 1051.7,305 C1050.6,305.7 1050.4,308.1 1050.8,309.2 C1051.2,310.3 1053,311.7 1054.2,311.7 C1055.5,311.7 1057.6,309.6 1058.3,309.2 M1058.3,305 C1058.5,307.1 1059.5,315 1059.2,317.5 C1058.9,320 1058,319.7 1056.7,320 C1055.5,320.3 1052.5,319.3 1051.7,319.2 M1076.7,305.8 C1077,306.9 1077.5,312.5 1078.3,312.5 C1079.1,312.5 1081.1,306.9 1081.7,305.8 M1093.3,306.7 L1093.3,313.3 M1093.5,309.2 C1094.2,308.6 1096.3,305.8 1097.5,305.8 C1098.7,305.8 1100.1,307.9 1100.8,309.2 C1101.5,310.4 1101.5,312.6 1101.7,313.3 M1119.2,304.2 L1120,312.5 M1120,306.7 C1120.4,306.1 1121.5,303.9 1122.5,303.3 C1123.5,302.7 1125.2,303.3 1125.8,303.3 M1126.7,307.5 C1127.4,307.2 1130.4,306.5 1130.8,305.8 C1131.2,305.1 1130,303.3 1129.2,303.3 C1128.4,303.3 1126.4,304.6 1125.8,305.8 C1125.2,307.1 1125,309.8 1125.8,310.8 C1126.6,311.8 1130,311.6 1130.8,311.7 M1138.3,305 C1137.6,305 1135,304.2 1134.2,305 C1133.4,305.8 1132.8,308.8 1133.3,310 C1133.8,311.2 1136.8,312.1 1137.5,312.5 M1140.8,294.2 L1140.8,312.5 M1141,308.3 C1141.5,307.8 1143.2,305 1144.2,305 C1145.2,305 1146.2,307.1 1146.7,308.3 C1147.2,309.6 1147.4,311.8 1147.5,312.5 M1152.5,295 L1151.7,312.5 M1147.5,300.8 L1157.5,300 M1164.2,304.2 C1163.4,304.2 1160,303.6 1159.2,304.2 C1158.4,304.8 1158.4,306.5 1159.2,307.5 C1160,308.5 1163.5,309.2 1164.2,310 C1164.9,310.8 1164.3,312.1 1163.3,312.5 C1162.3,312.9 1159.1,312.5 1158.3,312.5"/><ellipse cx="1086.7" cy="309.5" rx="3.3" ry="4.3"/></g>
<g class="k" stroke-width="3.0"><path d="M998.3,334.2 C998.4,335.9 998.4,342.4 999.2,344.2 C1000,346 1002,346.5 1003.3,345 C1004.5,343.5 1006.1,336.7 1006.7,335 M1006.7,335 L1007.5,345 M1001.7,327.5 l0.1,0.1 M1005,328.3 l0.1,0.1 M1013.3,327.5 L1012.5,345.8 M1013,340 C1013.9,339.4 1017,336.3 1018.3,336.7 C1019.6,337.1 1020.9,341 1020.8,342.5 C1020.7,344 1018.8,345.4 1017.5,345.8 C1016.2,346.2 1013.6,345.1 1012.8,345 M1025,340.8 C1025.7,340.4 1028.8,339.1 1029.2,338.3 C1029.6,337.5 1028.3,335.8 1027.5,335.8 C1026.7,335.8 1024.8,336.9 1024.2,338.3 C1023.7,339.7 1023.2,342.9 1024.2,344.2 C1025.2,345.4 1029,345.5 1030,345.8 M1035,336.7 L1036.7,347.5 M1036,340 C1036.7,339.3 1038.4,336.6 1040,335.8 C1041.6,335 1044.8,335.1 1045.8,335 M1073.3,329.2 C1072.2,329.5 1068.2,329.3 1066.7,330.8 C1065.2,332.3 1064.1,335.9 1064.2,338.3 C1064.3,340.7 1066,344 1067.5,345 C1069,346 1071.9,345.3 1073.3,344.2 C1074.7,343.1 1076.2,339.3 1075.8,338.3 C1075.4,337.3 1071.6,338.3 1070.8,338.3 M1078.3,338.3 L1079.2,347.5 M1079.2,341 C1079.8,340.4 1081.4,338.1 1082.5,337.5 C1083.6,336.9 1085.2,337.5 1085.8,337.5 M1091.7,339.2 C1091,339.3 1088.2,339.2 1087.5,340 C1086.8,340.8 1087,343.2 1087.5,344.2 C1088,345.2 1089.8,346.2 1090.8,345.8 C1091.8,345.4 1092.9,342.4 1093.3,341.7 M1093.3,339.2 L1094.2,345.8 M1101.7,338.3 C1101,338.3 1098.2,337.7 1097.5,338.3 C1096.8,338.9 1096.8,340.9 1097.5,341.7 C1098.2,342.5 1101,342.6 1101.7,343.3 C1102.4,344 1102.5,345.2 1101.7,345.8 C1100.9,346.4 1097.5,346.6 1096.7,346.7 M1107.5,327.5 L1106.7,345.8 M1107.3,340.8 C1108.3,340.4 1112,337.9 1113.3,338.3 C1114.6,338.7 1115.3,342.1 1115,343.3 C1114.7,344.6 1113,345.5 1111.7,345.8 C1110.4,346.1 1107.8,345.1 1107,345 M1121.7,340 C1121,340.1 1118.2,340 1117.5,340.8 C1116.8,341.6 1117,344.2 1117.5,345 C1118,345.8 1119.8,346.4 1120.8,345.8 C1121.8,345.2 1122.9,342.4 1123.3,341.7 M1123.3,339.2 L1124.2,345.8 M1128.3,340 L1128.3,345.8 M1128.5,342.5 C1129.2,341.9 1131.3,339.2 1132.5,339.2 C1133.7,339.2 1135.2,341.4 1135.8,342.5 C1136.3,343.6 1135.8,345.2 1135.8,345.8 M1148.5,341.5 C1147.6,341.2 1144.5,339.7 1143,339.8 C1141.5,339.9 1140.1,341.1 1139.5,342 C1138.9,342.9 1138.8,344.8 1139.5,345.5 C1140.2,346.2 1142.5,346.2 1144,346 C1145.5,345.8 1147.6,344.3 1148.3,344 M1153.3,330.8 C1152.8,332 1151.3,335.5 1150.5,338 C1149.7,340.5 1148.8,344.5 1148.5,345.8 M1159.2,322.5 C1159.9,324.3 1162.9,329 1163.3,333.3 C1163.7,337.6 1163,344 1161.7,348.3 C1160.5,352.6 1156.8,357.4 1155.8,359.2"/></g>
<g class="k" stroke-width="3.2"><path d="M1000.5,444.5 C1000.7,442.9 1001.2,438.6 1001.5,435 C1001.8,431.4 1000.8,423 1002,423 C1003.2,423 1006.7,434.8 1008.5,435 C1010.3,435.2 1012,424.5 1013,424.5 C1014,424.5 1013.9,431.8 1014.5,435 C1015.1,438.2 1016.2,442.5 1016.5,444 M1023,432.5 C1022.5,432.8 1020.7,432.8 1020,434 C1019.3,435.2 1018.8,438.2 1019,439.5 C1019.2,440.8 1020.1,442.1 1021,442 C1021.9,441.9 1023.9,439.5 1024.5,439 M1024.5,433 L1025,441.5 M1037,419 C1036.7,421.3 1035.2,429 1035,433 C1034.8,437 1035.4,441.3 1035.5,443 M1026,433.5 L1039,432 M1042,436.5 C1042.7,436.2 1045.5,435.3 1046,434.5 C1046.5,433.7 1045.8,431.7 1045,431.5 C1044.2,431.3 1041.8,432.3 1041,433.5 C1040.2,434.7 1040,437.2 1040.5,438.5 C1041,439.8 1042.4,441.1 1044,441.5 C1045.6,441.9 1049,441.1 1050,441 M1056.5,432 L1057,440 M1057,434 C1057.5,433.5 1058.8,431.5 1060,431 C1061.2,430.5 1063.3,431 1064,431 M1069,432.5 L1069,440 M1068.5,425.5 L1070,427 M1077,432.5 C1076.5,432.7 1074.7,432.4 1074,433.5 C1073.3,434.6 1072.8,437.7 1073,439 C1073.2,440.3 1074.2,441.5 1075,441.5 C1075.8,441.5 1077.5,439.4 1078,439 M1078.5,432 L1080,441 M1093,423 C1092.3,423.8 1089.5,425.7 1089,428 C1088.5,430.3 1089,434.9 1090,437 C1091,439.1 1093,440.1 1095,440.5 C1097,440.9 1100.8,439.7 1102,439.5"/></g>
<g class="k" stroke-width="3.1"><path d="M1013.8,487.6 C1014.8,486 1018,477.7 1019.6,478.1 C1021.2,478.5 1022.6,487.9 1023.2,489.8 M1028.4,476.7 C1029.7,476.7 1035.7,475.7 1036.4,476.7 C1037.1,477.7 1032.3,481.2 1032.7,482.5 C1033.1,483.8 1037.9,483.3 1039,484.5 C1040.1,485.7 1040.1,488.2 1039.3,489.5 C1038.5,490.8 1035.5,491.8 1034.2,492 C1032.9,492.2 1031.8,490.8 1031.3,490.5 M1055.4,476.7 L1054.6,488.4 M1055.4,476.7 L1063.4,475.2 M1055,482.5 L1062,481.8 M1054.6,488.4 L1064.1,487.6 M1069.2,478.9 L1078.7,488.4 M1078,478.9 L1070,488.4 M1084.6,479.6 L1085.3,493.5 M1085,481 C1085.8,480.5 1088.2,478.1 1089.7,478.1 C1091.2,478.1 1093.8,479.8 1094,481 C1094.2,482.2 1092.4,484.7 1091.1,485.4 C1089.8,486.1 1086.8,485.4 1086,485.4 M1104.3,476.7 L1104.3,486.2 M1104.3,477.5 C1105.3,477.1 1108.5,475.4 1110.1,475.2 C1111.7,474.9 1113.2,475.9 1113.8,476 M1116.7,484.7 l0.1,0.1"/></g>
<g class="k" stroke-width="3.1"><path d="M1029.1,507.3 C1027.9,507.4 1023.1,507 1021.8,508.1 C1020.4,509.2 1020.1,513 1021,513.9 C1021.9,514.8 1025.4,512.4 1026.9,513.2 C1028.4,514.1 1029.7,517.2 1029.8,519 C1029.9,520.8 1029.1,523.1 1027.6,524.1 C1026.1,525.1 1022.1,524.8 1021,524.9 M1055.4,516 L1056.1,522.7 M1056,518 C1056.6,517.6 1058.6,515.4 1059.7,515.4 C1060.8,515.4 1062.1,517.1 1062.7,518.3 C1063.3,519.5 1063.3,522 1063.4,522.7 M1063.4,518.3 C1063.9,517.8 1065.2,515.4 1066.3,515.4 C1067.4,515.4 1069,517.1 1070,518.3 C1071,519.5 1071.8,522 1072.2,522.7 M1086.8,510.3 L1086.8,524.9 M1084.6,509.5 C1085.9,509.6 1090.8,508.9 1092.6,510.3 C1094.4,511.7 1095.5,515.3 1095.5,517.6 C1095.5,519.9 1094.3,522.9 1092.6,524.1 C1090.9,525.3 1086.5,524.8 1085.3,524.9 M1107.9,515.4 L1107.9,528.5 M1108,517 C1108.7,516.6 1111.2,514.4 1112.3,514.6 C1113.4,514.8 1114.6,517.1 1114.5,518.3 C1114.4,519.5 1112.7,521.5 1111.6,522 C1110.5,522.5 1108.5,521.3 1107.9,521.2 M1118.1,515.4 L1117.4,529.2 M1118.1,517 C1118.7,516.7 1120.8,515.2 1121.8,515.4 C1122.8,515.6 1124,517.3 1124,518.3 C1124,519.3 1122.8,520.7 1121.8,521.2 C1120.8,521.7 1118.7,521.2 1118.1,521.2 M1127.6,517.6 C1128.1,517.2 1130.2,516 1130.5,515.4 C1130.8,514.8 1129.8,513.8 1129.1,513.9 C1128.4,514 1126.7,514.9 1126.2,516 C1125.7,517.1 1125.5,519.5 1126.2,520.5 C1126.9,521.5 1129.8,521.8 1130.5,522 M1137.1,508.8 C1136.6,509.8 1134.4,512.5 1134.2,514.6 C1134,516.7 1135,520.1 1135.7,521.2 C1136.4,522.3 1138.1,521.2 1138.6,521.2 M1145.1,515.4 C1144.5,515.5 1142.1,515.5 1141.5,516 C1140.9,516.5 1140.9,517.7 1141.5,518.3 C1142.1,518.9 1144.6,519 1145.1,519.7 C1145.6,520.4 1145.1,522.2 1144.4,522.7 C1143.7,523.2 1141.4,522.7 1140.8,522.7 M1148.8,519 C1149.4,518.6 1152,517.5 1152.4,516.8 C1152.8,516.1 1151.7,514.6 1151,514.6 C1150.3,514.6 1148.6,515.7 1148.1,516.8 C1147.6,517.9 1147.4,520.2 1148.1,521.2 C1148.8,522.2 1151.7,522.5 1152.4,522.7 M1159.7,516 L1159.7,522.7 M1159.7,510.3 l0.1,0.1 M1172.9,510.3 C1172.4,511 1170.5,512.9 1170,514.6 C1169.5,516.3 1169.5,519.3 1170,520.5 C1170.5,521.7 1172.4,521.8 1172.9,522"/><ellipse cx="1038.6" cy="518.5" rx="3.3" ry="5.5"/><ellipse cx="1101.4" cy="519" rx="3.5" ry="4.8"/></g>
<g class="k" stroke-width="3.1"><path d="M1024,543.1 C1024.2,544.6 1025,548.8 1025.5,552 C1026,555.2 1026.7,560.4 1026.9,562.1 M1034.2,543.8 C1034.3,545.2 1034.8,549.2 1035,552 C1035.2,554.8 1035.6,559.2 1035.7,560.6 M1027,552.6 L1036.4,551.8 M1040,554 C1040.7,553.5 1043.9,552 1044.4,551.1 C1044.9,550.2 1043.8,548.8 1043,548.9 C1042.2,549 1039.9,550.3 1039.3,551.8 C1038.7,553.3 1038.4,556.4 1039.3,557.7 C1040.2,559.1 1043.6,559.5 1044.4,559.9 M1056.1,543.8 C1055.4,544.8 1052.3,547.5 1051.7,549.7 C1051.1,551.9 1051.6,555.5 1052.4,557 C1053.2,558.5 1056.1,558.2 1056.8,558.4 M1064.9,551.1 L1064.9,559.9 M1065,553.3 C1065.7,552.8 1067.9,550.3 1069.2,550.4 C1070.5,550.5 1072.2,552.4 1072.9,554 C1073.6,555.6 1073.5,558.9 1073.6,559.9 M1073.6,554 C1074.3,553.5 1076.2,551 1078,551.1 C1079.8,551.2 1082.9,553.3 1084.6,554.8 C1086.3,556.3 1087.6,559 1088.2,559.9"/></g>
<g class="k" stroke-width="2.4"><path d="M134.2,240.3 C134.1,241.7 133.6,246.1 133.7,248.5 C133.8,250.9 133.6,254.5 134.6,254.5 C135.6,254.5 138.3,248.4 139.7,248.5 C141.1,248.6 141.6,256.2 142.9,254.9 C144.2,253.6 146.7,243.1 147.5,240.7 M154.4,247.6 C153.8,247.8 151.5,247.7 150.7,248.5 C149.9,249.3 149.6,251.3 149.8,252.2 C150,253 151.3,253.9 152.1,253.6 C152.9,253.3 154.4,250.9 154.8,250.3 M154.8,247.6 L155.7,253.6 M159,248.5 L159,254 M159.2,250.3 C159.5,249.9 160.5,248 161.2,248 C161.9,248 163,249.3 163.5,250.3 C164,251.3 164.2,253.4 164.4,254 M175.5,249 C174.8,248.8 172.2,247.7 171,247.8 C169.8,247.9 168.6,248.6 168,249.4 C167.4,250.2 167.4,251.9 167.7,252.6 C168,253.3 168.9,253.9 170,253.8 C171.1,253.7 173.6,252.3 174.3,252 M177.3,241.6 C177,242.6 176,245.6 175.5,247.6 C175,249.6 174.3,252.6 174.1,253.6 M182.8,241.2 C182.5,243 181,250.1 181,252.2 C181,254.3 182.5,253.4 182.8,253.6 M181.5,251.3 C182,250.8 183.8,248.2 184.6,248 C185.4,247.8 186.4,249.4 186.5,250.3 C186.6,251.2 185.7,253.1 185,253.6 C184.3,254.1 182.8,253.2 182.3,253.1 M191.5,248.5 C191.5,249.1 191.2,251.4 191.5,252.2 C191.8,253 192.6,253.6 193.3,253.1 C194,252.6 195.2,249.7 195.6,249 M195.6,249 L196.5,252.6 M210.8,246.7 C210.1,246.5 207.7,245.4 206.7,245.8 C205.7,246.2 204.8,248 204.8,249 C204.8,250 205.8,251.3 206.7,251.7 C207.5,252.1 209.4,251.4 209.9,251.3 M215.4,239.8 L213.5,252.2 M214,248.5 C214.6,248.1 216.5,246 217.7,245.8 C218.9,245.7 220.5,246.6 221.3,247.6 C222.1,248.6 222.5,251 222.7,251.7"/></g>
<g class="k" stroke-width="2.2"><path d="M400.7,299 L399,312.8 M408,297.3 L408,306.3 M400,304.6 L408.8,303.8 M412.9,303.8 C412.3,304.1 410.2,304.4 409.6,305.4 C409.1,306.3 409.2,308.7 409.6,309.5 C410,310.3 411.3,310.8 412,310.3 C412.7,309.8 413.4,307 413.7,306.3 M413.7,303.8 L414.5,310.3 M419.4,297.3 L418.6,310.3 M423.5,303 C422.8,303.6 419.3,305.1 419.4,306.3 C419.5,307.5 423.5,309.6 424.3,310.3 M426.7,307.1 C427.2,306.8 429.7,305.9 430,305.4 C430.3,304.8 429,303.6 428.3,303.8 C427.6,304 426.2,305.2 425.9,306.3 C425.6,307.4 425.9,309.6 426.7,310.3 C427.5,311 430.1,310.3 430.8,310.3 M433.2,305.4 L434,310.3 M434,307 C434.6,306.6 436.1,304.7 437.3,304.6 C438.5,304.5 440.2,305.4 441.3,306.3 C442.4,307.2 443.4,309.6 443.8,310.3 M461.7,298.1 C461,298.9 458.2,301.1 457.6,303 C457.1,304.9 457.7,308.1 458.4,309.5 C459.1,310.9 461.1,310.8 461.7,311.1 M468.2,304.6 C467.4,304.9 464.1,305.4 463.3,306.3 C462.5,307.2 462.8,309.5 463.3,310.3 C463.8,311.1 465.6,311.6 466.5,311.1 C467.4,310.6 468.6,307.8 469,307.1 M469,304.6 L469.8,311.1 M472.2,305.4 L473,311.1 M473,307.9 C473.6,307.3 475.2,304.6 476.3,304.6 C477.4,304.6 478.9,306.8 479.6,307.9 C480.3,309 480.3,310.6 480.4,311.1 M489.3,305.4 C488.5,305.4 485.3,304.7 484.4,305.4 C483.4,306.1 483.3,308.6 483.6,309.5 C483.9,310.4 485.1,311.2 486,311.1 C486.9,311 488.8,309.1 489.3,308.7 M489.3,305.4 C489.4,307 490.4,313.3 490.1,315.2 C489.8,317.1 488.8,316.9 487.7,316.8 C486.6,316.7 484.3,314.8 483.6,314.4 M504.8,307.9 C505.5,307.6 508.4,307 508.8,306.3 C509.2,305.6 508,303.8 507.2,303.8 C506.4,303.8 504.4,305.2 503.9,306.3 C503.3,307.4 503.1,309.5 503.9,310.3 C504.7,311.1 508,311 508.8,311.1 M512.9,304.6 L512.9,311.1 M512.9,300.6 l0.1,0.1 M516.1,305.4 L517,311.1 M517,307.9 C517.5,307.3 519.1,304.6 520.2,304.6 C521.3,304.6 522.8,306.8 523.5,307.9 C524.2,309 524.2,310.6 524.3,311.1 M530,298.1 L530,311.1 M530.5,307.9 C531.2,307.3 533.5,304.6 534.8,304.6 C536.1,304.6 537.4,306.8 538.1,307.9 C538.8,309 538.8,310.6 538.9,311.1 M547,305.4 C546.2,305.5 543.1,305.5 542.2,306.3 C541.3,307.1 541,309.5 541.4,310.3 C541.8,311.1 543.5,311.6 544.6,311.1 C545.7,310.6 547.3,307.8 547.8,307.1 M547.8,305.4 L548.7,311.1 M545.4,294.9 L547.8,297.3 M551.9,305.4 L551.9,311.1 M552.2,307.9 C552.8,307.5 554.8,305.4 556,305.4 C557.2,305.4 558.5,306.9 559.2,307.9 C559.9,308.8 559.9,310.6 560,311.1 M567.4,306.3 C566.7,306.3 564.1,305.6 563.3,306.3 C562.5,307 562.2,309.4 562.5,310.3 C562.8,311.2 564.2,312.3 565,312 C565.8,311.7 567,309.2 567.4,308.7 M567.4,306.3 C567.5,308.1 568.5,314.8 568.2,316.8 C567.9,318.8 566.8,318.6 565.7,318.5 C564.6,318.4 562.4,316.4 561.7,316 M570.6,308.7 C571.1,308.4 573.6,307.7 573.9,307.1 C574.2,306.6 572.9,305.3 572.2,305.4 C571.5,305.5 570.2,306.8 569.8,307.9 C569.4,309 569,311.2 569.8,312 C570.6,312.8 573.9,312.7 574.7,312.8 M576.3,307.9 L577.1,313.6 M577.3,309.5 C577.8,309.1 579.3,307 580.4,307.1 C581.5,307.2 582.9,309.1 583.6,310.3 C584.3,311.5 584.3,313.7 584.4,314.4 M597.3,313.2 L596.6,322.9 M608.3,306.1 L609,313.2 M609,307.4 C609.4,306.9 610.7,304.7 611.5,304.2 C612.3,303.7 613.6,304.2 614,304.2 M616,307.4 C616.5,307.1 618.9,306 619.2,305.4 C619.5,304.8 618.6,303.5 618,303.5 C617.4,303.5 615.7,304.4 615.4,305.4 C615.1,306.4 615,308.4 616,309.3 C617,310.2 620.3,310.4 621.2,310.6 M633.5,300.3 C632.9,300.3 630.4,299.5 629.6,300.3 C628.8,301.1 628.6,304.2 628.9,305.4 C629.2,306.6 631.1,307.1 631.5,307.4 M632.8,295.1 L632.8,307.4 M633.2,303.5 C633.8,303 635.7,300.4 636.7,300.3 C637.7,300.2 638.6,301.8 639.3,302.9 C639.9,304 640.4,306.1 640.6,306.7 M647,291.9 L645.7,307.4 M643.1,300.3 L649.6,299.6 M657.3,298.3 C656.5,298.4 653.5,298.4 652.8,299 C652,299.6 652,301.3 652.8,302.2 C653.5,303.1 656.5,303.2 657.3,304.2 C658,305.2 658.1,307.1 657.3,308 C656.4,308.9 653.1,309.1 652.2,309.3 M675.4,290.6 L674.1,307.4 M680.6,300.3 C679.7,300.8 675.5,302.4 675.4,303.5 C675.3,304.6 679.2,306.2 680,306.7 M687,294.5 C686.6,295.6 684.8,298.9 684.5,300.9 C684.2,302.9 684.6,305.6 685.1,306.7 C685.6,307.8 687.3,307.3 687.7,307.4 M689,304.2 C689.5,303.9 691.9,302.8 692.2,302.2 C692.5,301.6 691.6,300.3 691,300.3 C690.4,300.3 688.8,301.1 688.4,302.2 C688,303.3 687.6,305.8 688.4,306.7 C689.1,307.6 692.1,307.3 692.9,307.4 M700.6,293.8 L698.7,307.4 M695.5,300.3 L701.9,299.6 M707.1,293.2 L705.8,306.7 M703.2,299.6 L709,299 M709.7,300.9 L710.3,306.1 M710.5,302 C711.1,301.7 713.4,300.3 714.2,300.3 C715,300.3 715.2,301.2 715.5,302.2 C715.8,303.2 716,305.5 716.1,306.1 M718,302.2 L719.4,306.1 M719.6,303 C720.4,302.6 723,300.4 724.5,300.3 C726,300.2 727.1,301.4 728.4,302.2 C729.7,303 731.6,304.9 732.3,305.4"/></g>
<g class="k" stroke-width="2.4"><path d="M243.5,398 C242.9,398.6 241,400.1 240,401.5 C239,402.9 238,404.8 237.5,406.5 C237,408.2 236.7,410.2 237,411.5 C237.3,412.8 238.4,413.8 239.5,414 C240.6,414.2 242.7,413.2 243.3,413 M247.5,406.5 L246.8,413.5 M249.5,401.3 L250.8,403.3 M251.5,407.5 L251.8,413 M252,410.5 C252.3,410.2 253.2,409.1 254,409 C254.8,408.9 256.2,409.3 257,410 C257.8,410.7 258.7,412.5 259,413 M265,401.3 L262,411.5 M269,406.5 C268.3,407.1 265.2,409.1 265,410 C264.8,410.9 267.5,411.7 268,412 M275,406.5 C274.5,406.4 272.6,405.8 272,406 C271.4,406.2 270.8,407.3 271.5,408 C272.2,408.7 275.4,409.2 276,410 C276.6,410.8 275.8,411.9 275,412.5 C274.2,413.1 271.7,413.3 271,413.5 M259.5,421.5 C258.1,421.6 252.8,421.5 251,422 C249.2,422.5 248.8,423.8 249,424.5 C249.2,425.2 251.6,425.2 252.5,426 C253.4,426.8 254.5,428.5 254.5,429.5 C254.5,430.5 253.4,431.7 252.5,432 C251.6,432.3 249.8,431.9 249,431.5 C248.2,431.1 248.2,429.8 248,429.5"/></g>
<g class="k" stroke-width="2.4"><path d="M411.4,401.1 L411.4,407.5 M411.5,403 C412,402.5 413.3,400.4 414.3,400 C415.3,399.6 416.8,400.4 417.3,400.5 M418.4,404.6 C418.9,404.3 421.1,403.4 421.4,402.8 C421.7,402.2 420.8,401.1 420.2,401.1 C419.6,401.1 418.1,401.7 417.8,402.8 C417.5,403.9 417.7,406.7 418.4,407.5 C419.1,408.3 421.4,407.5 422,407.5 M427.8,401.7 C427.2,401.7 425,401 424.3,401.7 C423.6,402.4 423.3,404.8 423.7,405.8 C424.1,406.8 426.1,407.2 426.6,407.5 M430.1,395.8 L429.5,407.5 M429.8,403.4 C430.3,403 432.1,401.2 433,401.1 C433.9,401 434.9,401.7 435.4,402.8 C435.9,403.9 435.9,406.7 436,407.5 M442.4,394.7 L441.2,407.5 M438.3,400.5 L445.3,399.9 M450.6,401.1 C449.9,401.1 447.2,400.6 446.5,401.1 C445.8,401.6 445.4,403.3 446.5,404 C447.6,404.7 452,404.5 452.9,405.2 C453.8,405.9 452.7,407.6 451.7,408.1 C450.7,408.6 447.8,408.1 447,408.1 M493.8,394.1 C493,394.8 490.3,396.6 489.1,398.2 C487.9,399.8 486.8,402.4 486.8,404 C486.8,405.6 488,407.5 489.1,408.1 C490.2,408.7 492.3,408.2 493.2,407.5 C494.1,406.8 494.8,404.8 494.4,404 C494,403.2 492,402.7 490.9,402.8 C489.8,402.9 488.4,404.3 487.9,404.6 M500.2,402.3 L505.5,401.7 M502.5,399.3 L502.5,405.2 M510.7,390 L508.4,410.4 M513.6,397.6 L520.7,397 M520.7,397 C520.4,397.2 519.4,396.3 518.9,398.2 C518.4,400.1 517.9,406.5 517.7,408.1 M515.4,402.8 L523,402.8 M531.7,402.3 L537.6,401.7"/></g>
<g class="k" stroke-width="2.5"><path d="M234.7,1179.5 C233.5,1179.7 229,1179.7 227.4,1180.6 C225.8,1181.5 224.7,1183.4 225.1,1185.1 C225.5,1186.8 228,1189.4 229.6,1190.8 C231.2,1192.2 234.3,1192.6 234.7,1193.6 C235.1,1194.6 233.7,1196.5 231.9,1197 C230.1,1197.5 226.1,1196.6 224,1196.4 C221.9,1196.2 220.2,1195.9 219.5,1195.8 M219.5,1195.8 L228.5,1194.7 M236.4,1191.9 C237.2,1191.5 240.4,1190.3 240.9,1189.6 C241.4,1188.8 240,1187.4 239.2,1187.4 C238.3,1187.4 236.3,1188.3 235.8,1189.6 C235.3,1190.9 235.6,1194.2 236.4,1195.3 C237.2,1196.4 240.2,1196.2 240.9,1196.4 M244.3,1189.6 L245.4,1200.9 M244.6,1190.2 C245.3,1189.8 247.6,1187.9 248.8,1188 C250,1188.1 251.6,1189.8 251.6,1190.8 C251.6,1191.8 249.9,1193.6 248.8,1194.1 C247.7,1194.6 245.5,1193.7 244.8,1193.6 M261.2,1189.6 C260.4,1189.7 257.5,1189.5 256.7,1190.2 C255.8,1191 255.7,1193.2 256.1,1194.1 C256.5,1195 257.9,1196 258.9,1195.8 C259.9,1195.6 261.7,1193.5 262.3,1193 M262.3,1189 L262.9,1195.8 M267.9,1190.2 L268.5,1195.8 M268.5,1191.3 C269,1190.8 270.4,1188.9 271.3,1188.5 C272.2,1188.1 273.6,1188.9 274.1,1189 M282.6,1189.6 C281.9,1189.7 279,1189.5 278.1,1190.2 C277.2,1191 277.1,1193.2 277.5,1194.1 C277.9,1195 279.3,1196 280.3,1195.8 C281.3,1195.6 283.1,1193.5 283.7,1193 M283.7,1189 L284.8,1196.4 M296.1,1178.4 L294.4,1197 M288.2,1188.5 L298.9,1187.4 M300.6,1190.8 C301.2,1190.5 303.6,1189.6 304,1189 C304.4,1188.4 303.5,1187.4 302.8,1187.4 C302.1,1187.4 300.5,1187.9 300,1189 C299.5,1190.1 299.3,1193 300,1194.1 C300.7,1195.2 303.3,1195.5 304,1195.8 M308.5,1189.6 L309,1196.4 M309,1191.3 C309.5,1190.8 310.4,1188.5 311.8,1188 C313.2,1187.5 316.6,1188.4 317.5,1188.5"/></g>
<g class="k" stroke-width="2.5"><path d="M221.2,1221.2 C221.8,1220 223.4,1216.2 224.6,1213.9 C225.8,1211.7 227.3,1207.6 228.5,1207.7 C229.7,1207.8 230.8,1212.2 231.9,1214.4 C233,1216.7 234.7,1220.1 235.3,1221.2 M224,1216.7 L233,1216.1 M237,1206.5 L236.4,1220 M236.8,1214.4 C237.5,1214 239.8,1211.8 240.9,1212.2 C242,1212.6 243.2,1215.4 243.2,1216.7 C243.2,1218 242,1219.5 240.9,1220 C239.8,1220.5 237.2,1219.6 236.4,1219.5 M251,1211.6 C250.3,1211.7 247.8,1211.6 247.1,1212.2 C246.4,1212.8 246.4,1214.2 247.1,1215 C247.8,1215.8 250.3,1216 251,1216.7 C251.7,1217.5 251.8,1219 251,1219.5 C250.2,1220 247.2,1219.9 246.5,1220 M253.9,1215 C254.4,1214.7 256.8,1213.9 257.2,1213.3 C257.6,1212.7 256.8,1211.6 256.1,1211.6 C255.5,1211.6 253.7,1212.2 253.3,1213.3 C252.9,1214.4 253.2,1217.4 253.9,1218.4 C254.7,1219.4 257.2,1219.3 257.8,1219.5 M262.9,1212.7 L263.4,1220.6 M263.4,1205.4 l0.1,0.1 M271.9,1206.5 C271.4,1207.6 269.5,1211 269.1,1213.3 C268.7,1215.5 268.9,1218.8 269.6,1220 C270.4,1221.2 272.9,1220.5 273.6,1220.6 M281.4,1208.8 C280.6,1208.9 276.9,1208.4 276.4,1209.3 C275.8,1210.2 277.1,1212.7 278.1,1213.9 C279.1,1215.1 282.2,1215.5 282.6,1216.7 C283,1217.9 281.4,1220.6 280.3,1221.2 C279.2,1221.8 276.6,1220.7 275.8,1220.6 M293.8,1205.4 L292.7,1221.2 M288.2,1211 L300.6,1210.5 M308.5,1213.9 C307.8,1214 305.2,1213.7 304.5,1214.4 C303.8,1215.2 303.7,1217.5 304,1218.4 C304.3,1219.3 305.3,1220.2 306.2,1220 C307.1,1219.8 309,1217.7 309.6,1217.2 M309.6,1213.3 L311.3,1220.6 M315.2,1214.4 L315.2,1220.6 M315.4,1216.7 C315.9,1216.2 317.6,1214 318.6,1213.9 C319.6,1213.8 320.8,1215 321.4,1216.1 C322,1217.2 321.9,1219.8 322,1220.6 M336,1215.5 C335,1215.2 331.8,1214 330,1214 C328.2,1214 326.2,1214.6 325.3,1215.5 C324.4,1216.4 324.3,1218.7 324.8,1219.5 C325.3,1220.3 326.4,1220.7 328.2,1220.4 C330,1220.2 334.3,1218.4 335.5,1218 M338.9,1206 C338.5,1207.2 337.2,1211 336.6,1213.3 C336,1215.5 334.8,1218.4 335.5,1219.5 C336.2,1220.6 340.2,1219.9 341.1,1220"/></g>
<g class="k" stroke-width="2.7"><path d="M618.7,1349 L618,1370 M624.5,1351 L624,1366 M617.5,1360 L625.5,1358.7 M632,1357.4 C631.1,1357.6 627.7,1357.6 626.7,1358.7 C625.7,1359.8 625.5,1362.8 626,1364 C626.5,1365.2 628.3,1366.3 629.4,1366 C630.5,1365.7 632.2,1362.7 632.7,1362 M632.7,1356.7 L633.4,1366 M638.7,1350.7 L637.4,1366 M644,1357.4 C643.1,1358.1 638.6,1360 638.7,1361.4 C638.8,1362.8 643.8,1365.2 644.8,1366 M648,1362 C648.8,1361.6 652.2,1360.3 652.8,1359.4 C653.4,1358.5 652.3,1356.7 651.4,1356.7 C650.5,1356.7 648.1,1358.1 647.4,1359.4 C646.7,1360.7 646.5,1363.6 647.4,1364.7 C648.3,1365.8 651.9,1365.8 652.8,1366 M656,1358.7 L656.8,1366 M656.8,1361.4 C657.6,1360.7 659.7,1357.6 661.4,1357.4 C663.1,1357.2 665.1,1359 666.8,1360 C668.5,1361 670.7,1362.8 671.5,1363.4 M686.8,1348 C686.2,1348.9 684,1351.4 683.5,1353.4 C683,1355.4 683.6,1358.7 684.1,1360 C684.6,1361.3 686.3,1361.2 686.8,1361.4 M693.5,1353.4 C692.8,1353.6 690.3,1353.7 689.5,1354.7 C688.7,1355.7 688.5,1358.4 688.8,1359.4 C689.1,1360.4 690.6,1361 691.5,1360.7 C692.4,1360.4 693.8,1358 694.2,1357.4 M694.2,1353.4 L695.5,1360.7 M698.2,1354.7 L698.8,1361.4 M698.9,1356.7 C699.3,1356.2 700.5,1353.6 701.5,1353.4 C702.5,1353.2 704.1,1354.2 704.8,1355.4 C705.5,1356.6 705.4,1359.8 705.5,1360.7 M713.5,1353.4 C712.7,1353.5 709.7,1353.1 708.8,1354 C707.9,1354.9 707.9,1357.6 708.2,1358.7 C708.5,1359.8 709.8,1360.9 710.8,1360.7 C711.8,1360.5 713.6,1358 714.2,1357.4 M714.2,1353.4 C714.3,1355.3 714.9,1362.5 714.8,1364.7 C714.7,1366.9 714.4,1366.7 713.5,1366.7 C712.6,1366.7 710.2,1365 709.5,1364.7 M620,1384 C620.8,1383.7 624.1,1382.8 624.7,1382 C625.3,1381.2 624.3,1379.4 623.4,1379.4 C622.5,1379.4 620,1380.6 619.4,1382 C618.8,1383.4 619.1,1386.7 620,1388 C620.9,1389.3 623.9,1389.7 624.7,1390 M633.4,1380.7 L633.4,1390 M633.4,1376 l0.1,0.1 M637.4,1381.4 L638,1390 M638,1384 C638.6,1383.5 640.2,1380.8 641.4,1380.7 C642.6,1380.6 644.5,1382.1 645.4,1383.4 C646.3,1384.7 646.6,1387.8 646.8,1388.7 M658.8,1371.4 L657.4,1386 M657.8,1381.4 C658.4,1380.8 660.1,1378.2 661.4,1378 C662.7,1377.8 664.5,1378.8 665.4,1380 C666.3,1381.2 666.6,1384.5 666.8,1385.4 M674.8,1379.4 C673.9,1379.5 670.5,1379.1 669.5,1380 C668.5,1380.9 668.4,1383.7 668.8,1384.7 C669.2,1385.7 671,1386.3 672.1,1386 C673.2,1385.7 674.9,1383.2 675.5,1382.7 M675.5,1378.7 L676.8,1386 M672,1370.7 L674.8,1372.7 M680,1380 L680.8,1386 M680.8,1382 C681.3,1381.6 683.1,1379.5 684.1,1379.4 C685.1,1379.3 686.2,1380.3 686.8,1381.4 C687.4,1382.5 687.4,1385.2 687.5,1386 M696.2,1380 C695.4,1380.1 692.4,1379.8 691.5,1380.7 C690.6,1381.6 690.5,1384.4 690.8,1385.4 C691.1,1386.4 692.5,1387 693.5,1386.7 C694.5,1386.4 696.2,1384 696.8,1383.4 M696.8,1379.4 C696.8,1381.4 697,1389 696.8,1391.4 C696.6,1393.8 696.3,1393.8 695.5,1394 C694.7,1394.2 692.8,1392.9 692.2,1392.7 M700.2,1383.4 C700.9,1383.1 703.8,1382.1 704.2,1381.4 C704.6,1380.7 703.6,1379.4 702.8,1379.4 C702,1379.4 700,1380.2 699.5,1381.4 C699,1382.6 698.7,1385.6 699.5,1386.7 C700.3,1387.8 703.4,1387.8 704.2,1388 M708.2,1381.4 L708.8,1388 M708.9,1383.4 C709.5,1382.8 711,1380.1 712.2,1380 C713.4,1379.9 715,1381.2 716.2,1382.7 C717.4,1384.2 719,1387.7 719.5,1388.7"/></g>
<g class="k" stroke-width="3.2"><path d="M75,1608.7 L74.2,1624.5 M71.7,1609.5 C73.4,1609.2 79.6,1607.5 81.7,1607.8 C83.8,1608.1 84.6,1610 84.2,1611.2 C83.8,1612.5 78.8,1614.3 79.2,1615.3 C79.6,1616.3 85.6,1615.6 86.7,1617 C87.8,1618.4 87.2,1622.3 85.8,1623.7 C84.4,1625.1 81.2,1625.2 78.3,1625.3 C75.4,1625.4 70,1624.6 68.3,1624.5 M92.5,1613.7 L92.5,1625.3 M92.5,1617 C93.2,1616.5 95.2,1614.2 96.7,1613.7 C98.2,1613.2 100.9,1613.7 101.7,1613.7 M106.7,1615.3 C106.8,1616.4 106.8,1620.5 107.5,1622 C108.2,1623.5 109.3,1625.6 110.8,1624.5 C112.3,1623.4 115.7,1616.8 116.7,1615.3 M116.7,1615.3 L117.5,1624.5 M121.7,1617 L122.5,1624.5 M122.8,1619.5 C123.6,1618.8 126,1615.6 127.5,1615.3 C129,1615 130.7,1616.3 131.7,1617.8 C132.7,1619.3 133,1623.4 133.3,1624.5 M146.7,1616.2 C145.6,1616.2 141.4,1615.4 140,1616.2 C138.6,1617 137.8,1619.8 138.3,1621.2 C138.9,1622.6 141.6,1624.1 143.3,1624.5 C145,1624.9 147.5,1623.8 148.3,1623.7 M155.8,1604.5 L154.2,1623.7 M155,1617.8 C155.8,1617.1 158.5,1613.8 160,1613.7 C161.5,1613.6 163.2,1615.3 164.2,1617 C165.2,1618.7 165.5,1622.6 165.8,1623.7"/></g>
<path class="k" stroke-width="3" d="M971,141.8 C1010,140 1060,137.5 1100,134.8"/>
<path class="k" stroke-width="3.4" d="M994.5,452 C1010,451.6 1030,451 1050,450.5 C1070,449.5 1090,449.6 1104,450"/>
<!--/GEN-->
</svg>
</body></html>
